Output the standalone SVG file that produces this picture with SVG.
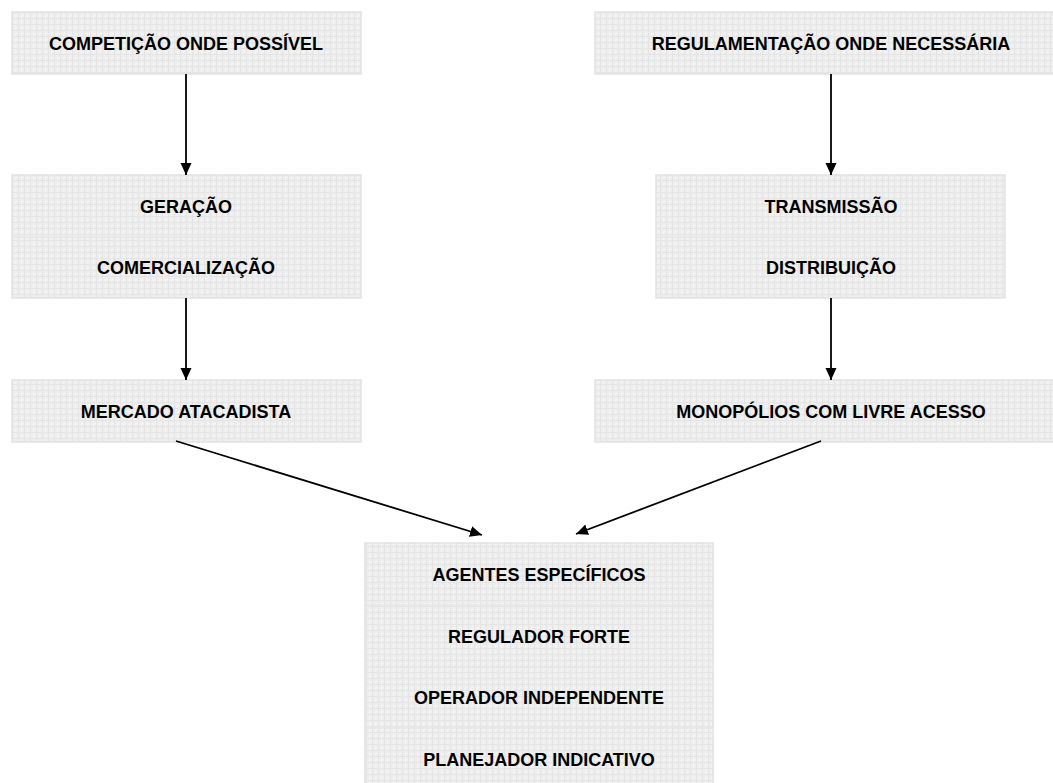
<svg xmlns="http://www.w3.org/2000/svg" width="1053" height="783" viewBox="0 0 1053 783">
  <defs>
    <pattern id="grid" width="6" height="6" patternUnits="userSpaceOnUse">
      <rect width="6" height="6" fill="#eeeeee"/>
      <path d="M0,0.5 H6 M0.5,0 V6" stroke="#e5e5e5" stroke-width="1"/>
      <path d="M3,3.5 H6 M3.5,3 V6" stroke="#f4f4f4" stroke-width="1"/>
    </pattern>
    <marker id="arrow" markerUnits="userSpaceOnUse" markerWidth="13" markerHeight="13" refX="12" refY="6.5" orient="auto">
      <path d="M0,1 L12,6.5 L0,12 z" fill="#000"/>
    </marker>
  </defs>
  <style>
    .box { fill: url(#grid); stroke: #e2e2e2; stroke-width: 1.5; }
    .div { stroke: #e6e6e6; stroke-width: 1.5; }
    .lbl { font-family: "Liberation Sans", Arial, sans-serif; font-weight: bold; font-size: 18px; fill: #000; text-anchor: middle; }
    .edge { stroke: #000; stroke-width: 1.8; fill: none; marker-end: url(#arrow); }
  </style>
  <rect width="1053" height="783" fill="#fff"/>

  <g id="competicao">
    <rect class="box" x="12" y="12" width="349" height="62"/>
    <text class="lbl" x="186" y="50">COMPETIÇÃO ONDE POSSÍVEL</text>
  </g>
  <g id="regulamentacao">
    <rect class="box" x="595" y="12" width="472" height="62"/>
    <text class="lbl" x="831" y="50">REGULAMENTAÇÃO ONDE NECESSÁRIA</text>
  </g>
  <g id="geracao">
    <rect class="box" x="12" y="175" width="349" height="123"/>
    <line class="div" x1="12" y1="237" x2="361" y2="237"/>
    <text class="lbl" x="186" y="213">GERAÇÃO</text>
    <text class="lbl" x="186" y="274">COMERCIALIZAÇÃO</text>
  </g>
  <g id="transmissao">
    <rect class="box" x="656" y="175" width="349" height="123"/>
    <line class="div" x1="656" y1="237" x2="1005" y2="237"/>
    <text class="lbl" x="831" y="213">TRANSMISSÃO</text>
    <text class="lbl" x="831" y="274">DISTRIBUIÇÃO</text>
  </g>
  <g id="mercado">
    <rect class="box" x="12" y="380" width="349" height="62"/>
    <text class="lbl" x="186" y="418">MERCADO ATACADISTA</text>
  </g>
  <g id="monopolios">
    <rect class="box" x="595" y="380" width="472" height="62"/>
    <text class="lbl" x="831" y="418">MONOPÓLIOS COM LIVRE ACESSO</text>
  </g>
  <g id="agentes">
    <rect class="box" x="365" y="543" width="348" height="248"/>
    <line class="div" x1="365" y1="605" x2="713" y2="605"/>
    <line class="div" x1="365" y1="667" x2="713" y2="667"/>
    <line class="div" x1="365" y1="728" x2="713" y2="728"/>
    <text class="lbl" x="539" y="581">AGENTES ESPECÍFICOS</text>
    <text class="lbl" x="539" y="643">REGULADOR FORTE</text>
    <text class="lbl" x="539" y="704">OPERADOR INDEPENDENTE</text>
    <text class="lbl" x="539" y="766">PLANEJADOR INDICATIVO</text>
  </g>

  <g id="connectors">
    <line class="edge" x1="186" y1="74" x2="186" y2="175"/>
    <line class="edge" x1="831" y1="74" x2="831" y2="175"/>
    <line class="edge" x1="186" y1="298" x2="186" y2="380"/>
    <line class="edge" x1="831" y1="298" x2="831" y2="380"/>
    <line class="edge" x1="176" y1="441" x2="482" y2="535"/>
    <line class="edge" x1="821" y1="441" x2="576" y2="534"/>
  </g>
</svg>
